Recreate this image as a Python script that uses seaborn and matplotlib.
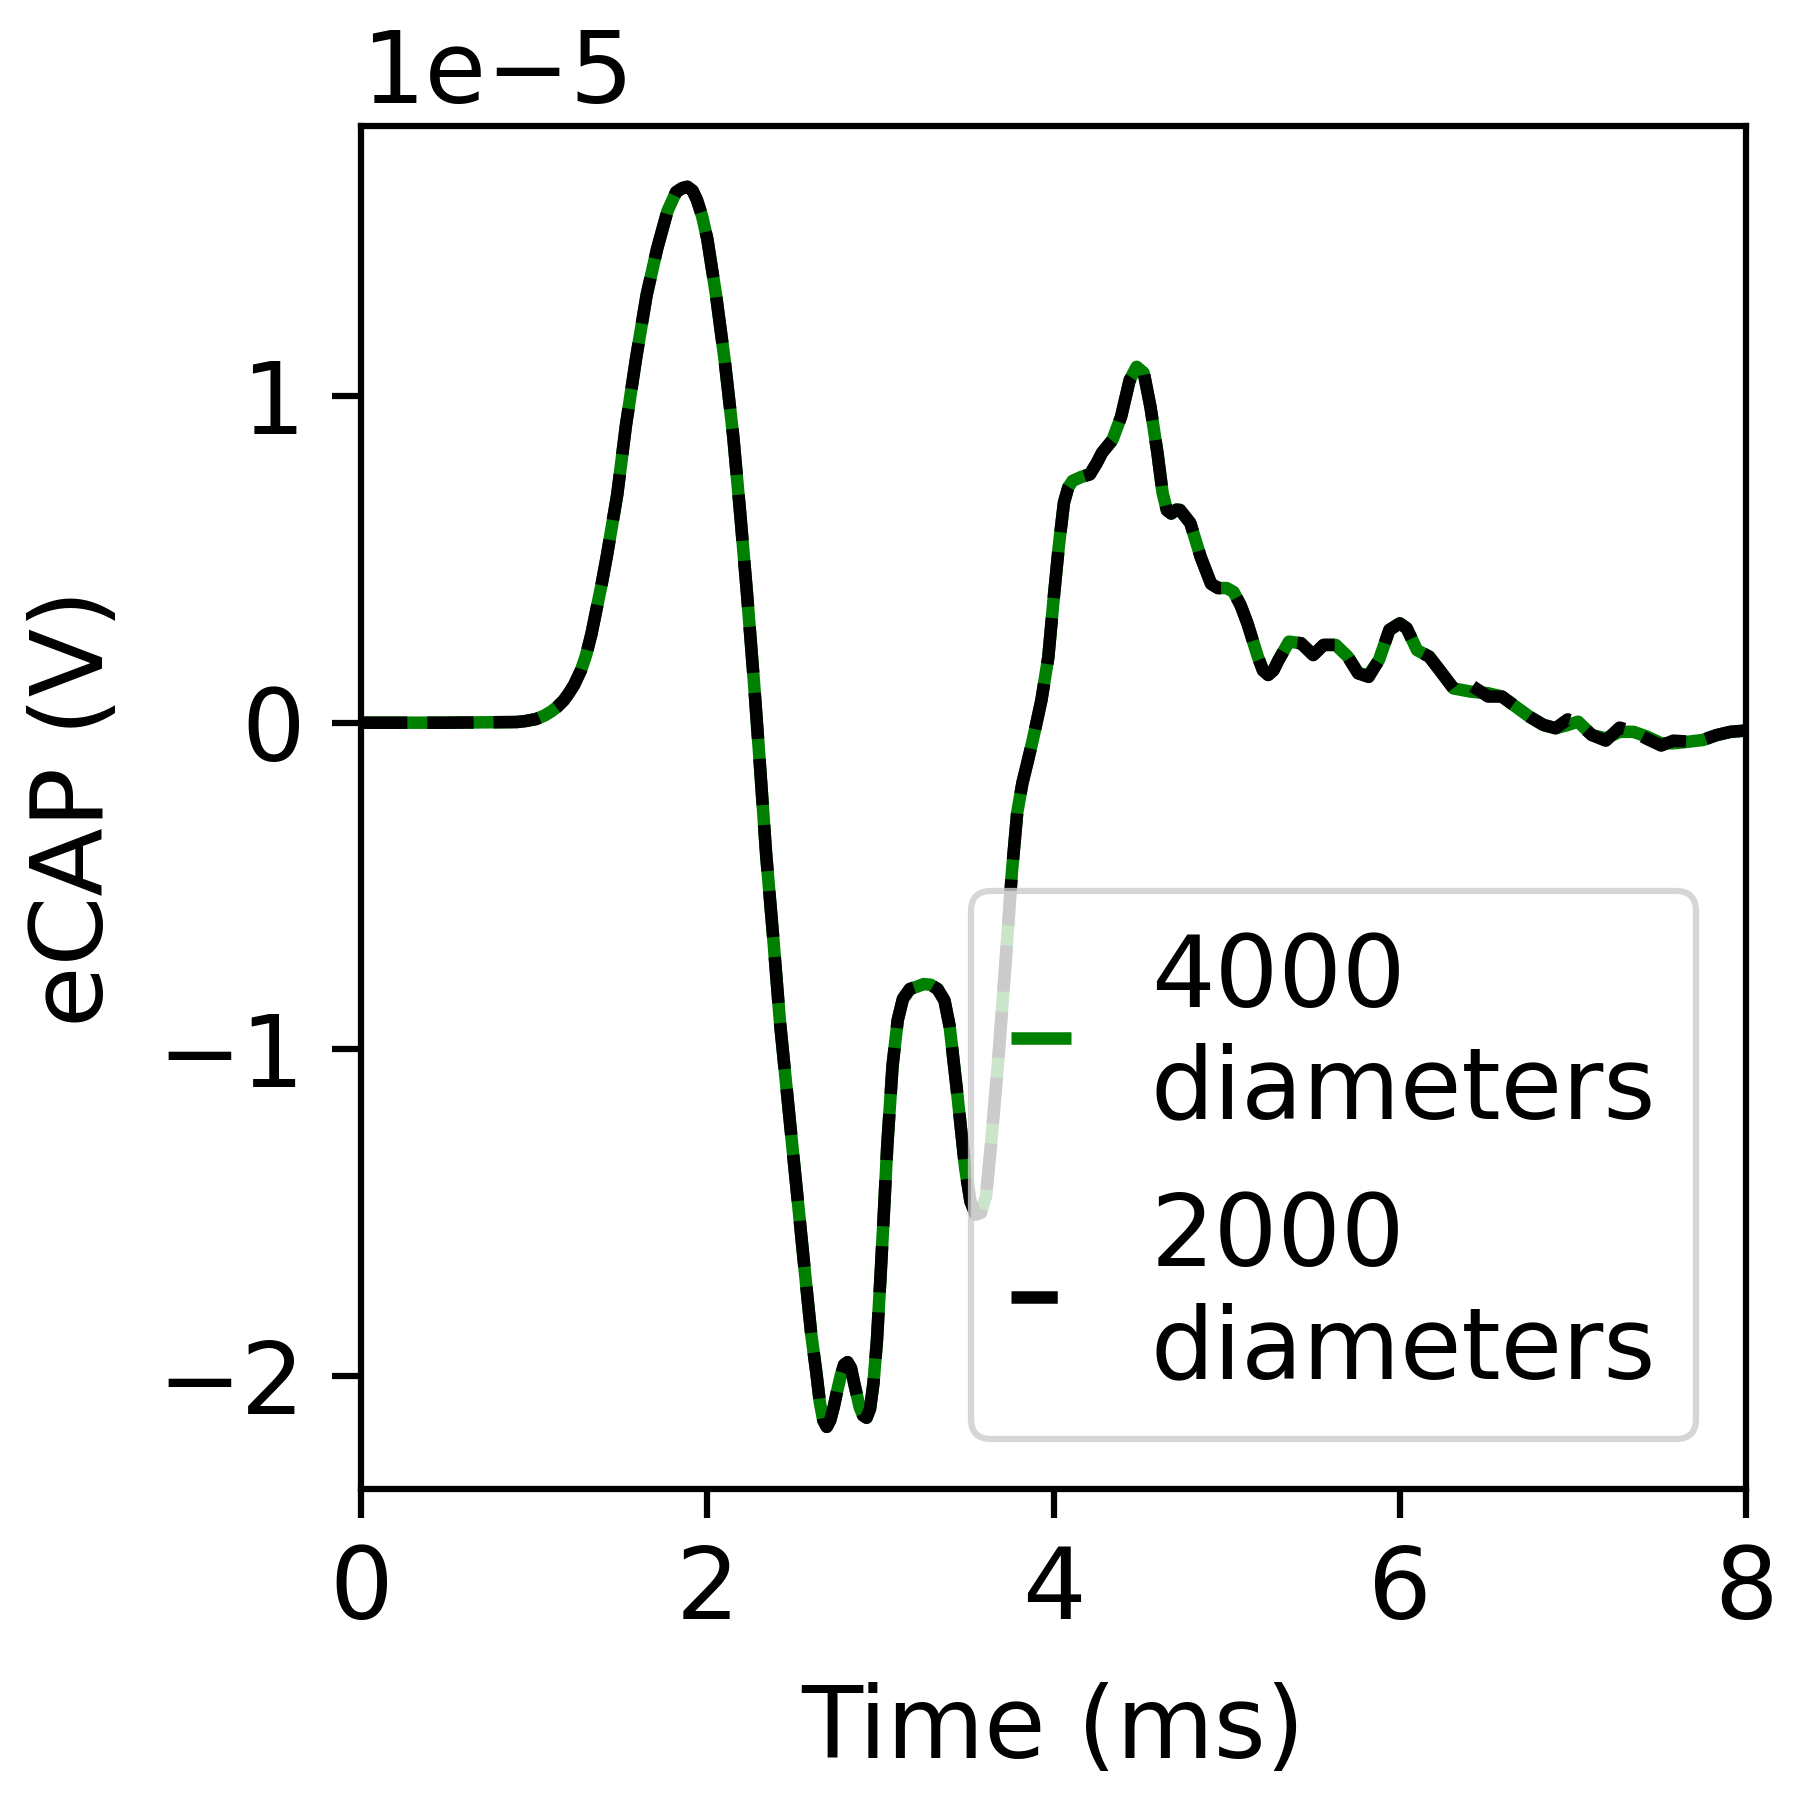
import numpy as np
import pandas as pd
import matplotlib
matplotlib.use("Agg")
import matplotlib.pyplot as plt
import seaborn as sns

# time axis (ms) shared by both runs
time_ms = [0.00, 0.50, 0.90, 0.95, 1.01, 1.06, 1.10, 1.13, 1.17, 1.20,
           1.23, 1.27, 1.30, 1.33, 1.36, 1.39, 1.42, 1.48, 1.53, 1.59,
           1.65, 1.71, 1.77, 1.82, 1.855, 1.885, 1.915, 1.94, 1.97, 2.00,
           2.05, 2.10, 2.15, 2.19, 2.23, 2.27, 2.30, 2.34, 2.38, 2.42,
           2.47, 2.52, 2.57, 2.60, 2.63, 2.65, 2.67, 2.69, 2.71, 2.73,
           2.75, 2.77, 2.79, 2.81, 2.83, 2.85, 2.88, 2.90, 2.92, 2.94,
           2.96, 2.98, 3.00, 3.02, 3.04, 3.07, 3.10, 3.13, 3.17, 3.21,
           3.25, 3.29, 3.33, 3.37, 3.40, 3.44, 3.49, 3.52, 3.55, 3.58,
           3.61, 3.64, 3.68, 3.72, 3.76, 3.79, 3.82, 3.85, 3.88, 3.93,
           3.97, 4.00, 4.03, 4.06, 4.085, 4.11, 4.16, 4.21, 4.25, 4.28,
           4.34, 4.39, 4.44, 4.48, 4.52, 4.56, 4.60, 4.63, 4.655, 4.68,
           4.71, 4.73, 4.79, 4.85, 4.91, 4.95, 5.00, 5.04, 5.08, 5.12,
           5.18, 5.21, 5.24, 5.27, 5.30, 5.36, 5.43, 5.50, 5.56, 5.63,
           5.70, 5.76, 5.82, 5.88, 5.94, 6.00, 6.04, 6.10, 6.17, 6.23,
           6.31, 6.41, 6.51, 6.59, 6.67, 6.75, 6.83, 6.90, 6.97, 7.03,
           7.11, 7.19, 7.27, 7.35, 7.43, 7.51, 7.58, 7.67, 7.75, 7.83,
           7.91, 8.00]

# eCAP in units of 1e-5 V
ecap_4000 = [0.000, 0.000, 0.002, 0.005, 0.011, 0.022, 0.035, 0.047, 0.068, 0.090,
             0.115, 0.160, 0.207, 0.270, 0.347, 0.425, 0.511, 0.699, 0.910, 1.120,
             1.310, 1.450, 1.566, 1.624, 1.636, 1.640, 1.628, 1.600, 1.550, 1.480,
             1.310, 1.110, 0.875, 0.640, 0.390, 0.120, -0.100, -0.404, -0.653, -0.918,
             -1.184, -1.449, -1.715, -1.870, -1.990, -2.080, -2.135, -2.155, -2.135, -2.095,
             -2.045, -2.000, -1.965, -1.957, -1.975, -2.025, -2.095, -2.120, -2.127, -2.100,
             -2.020, -1.890, -1.700, -1.500, -1.290, -1.050, -0.910, -0.845, -0.815, -0.808,
             -0.800, -0.802, -0.815, -0.850, -0.930, -1.117, -1.366, -1.465, -1.505, -1.500,
             -1.449, -1.283, -1.035, -0.753, -0.454, -0.276, -0.185, -0.120, -0.053, 0.069,
             0.201, 0.376, 0.538, 0.673, 0.720, 0.740, 0.752, 0.760, 0.795, 0.826,
             0.865, 0.936, 1.049, 1.089, 1.071, 0.966, 0.826, 0.703, 0.650, 0.640,
             0.652, 0.651, 0.611, 0.507, 0.425, 0.412, 0.412, 0.400, 0.360, 0.304,
             0.202, 0.160, 0.146, 0.160, 0.192, 0.248, 0.243, 0.207, 0.238, 0.238,
             0.202, 0.151, 0.146, 0.192, 0.284, 0.304, 0.289, 0.222, 0.202, 0.161,
             0.105, 0.095, 0.090, 0.080, 0.049, 0.018, -0.007, -0.017, -0.007, 0.003,
             -0.038, -0.048, -0.028, -0.028, -0.043, -0.063, -0.063, -0.058, -0.053, -0.038,
             -0.028, -0.024]

ecap_2000 = [0.000, 0.000, 0.002, 0.005, 0.011, 0.022, 0.035, 0.047, 0.068, 0.090,
             0.115, 0.160, 0.207, 0.270, 0.347, 0.425, 0.511, 0.699, 0.910, 1.120,
             1.310, 1.450, 1.566, 1.624, 1.636, 1.640, 1.628, 1.600, 1.550, 1.480,
             1.310, 1.110, 0.875, 0.640, 0.390, 0.120, -0.100, -0.404, -0.653, -0.918,
             -1.184, -1.449, -1.715, -1.870, -1.990, -2.080, -2.135, -2.155, -2.135, -2.095,
             -2.045, -2.000, -1.965, -1.957, -1.975, -2.025, -2.095, -2.120, -2.127, -2.100,
             -2.020, -1.890, -1.700, -1.500, -1.290, -1.050, -0.910, -0.845, -0.815, -0.808,
             -0.800, -0.802, -0.815, -0.850, -0.930, -1.117, -1.366, -1.465, -1.505, -1.500,
             -1.449, -1.283, -1.035, -0.753, -0.454, -0.276, -0.185, -0.120, -0.053, 0.069,
             0.201, 0.376, 0.538, 0.673, 0.720, 0.740, 0.752, 0.760, 0.795, 0.826,
             0.865, 0.936, 1.049, 1.080, 1.075, 0.966, 0.826, 0.703, 0.650, 0.640,
             0.652, 0.651, 0.611, 0.507, 0.425, 0.412, 0.412, 0.400, 0.360, 0.304,
             0.202, 0.160, 0.146, 0.160, 0.192, 0.248, 0.243, 0.207, 0.238, 0.238,
             0.202, 0.151, 0.140, 0.192, 0.284, 0.304, 0.289, 0.222, 0.202, 0.161,
             0.105, 0.115, 0.080, 0.080, 0.049, 0.018, -0.007, -0.017, 0.010, 0.000,
             -0.038, -0.055, -0.015, -0.028, -0.050, -0.070, -0.055, -0.058, -0.053, -0.038,
             -0.028, -0.024]

labels = ["4000\ndiameters", "2000\ndiameters"]

sns.set_style("ticks")
plt.rcParams["font.family"] = ["DejaVu Sans"]
plt.rcParams["text.color"] = "black"
plt.rcParams["axes.labelcolor"] = "black"
plt.rcParams["axes.edgecolor"] = "black"
plt.rcParams["xtick.color"] = "black"
plt.rcParams["ytick.color"] = "black"
plt.rcParams["axes.linewidth"] = 1.5
plt.rcParams["xtick.major.width"] = 1.5
plt.rcParams["ytick.major.width"] = 1.5
plt.rcParams["xtick.major.size"] = 7
plt.rcParams["ytick.major.size"] = 7
plt.rcParams["xtick.major.pad"] = 6
plt.rcParams["ytick.major.pad"] = 6.5

fig, ax = plt.subplots(figsize=(6, 6), dpi=300)
fig.subplots_adjust(left=0.2006, right=0.970, bottom=0.1728, top=0.93)

df = pd.DataFrame({
    "t": time_ms,
    "v4000": np.array(ecap_4000) * 1e-5,
    "v2000": np.array(ecap_2000) * 1e-5,
})

sns.lineplot(data=df, x="t", y="v4000", ax=ax, color="green", lw=3,
             label=labels[0], sort=False, solid_capstyle="butt")
sns.lineplot(data=df, x="t", y="v2000", ax=ax, color="black", lw=3,
             linestyle="--", label=labels[1], sort=False)

ax.set_xlim(0, 8)
ax.set_ylim(-2.345e-5, 1.826e-5)
ax.set_xticks([0, 2, 4, 6, 8])
ax.set_yticks([-2e-5, -1e-5, 0, 1e-5])
ax.tick_params(labelsize=24)
ax.yaxis.get_offset_text().set_fontsize(24)
ax.yaxis.OFFSETTEXTPAD = 5.5
ax.set_xlabel("Time (ms)", fontsize=24, labelpad=10)
ax.set_ylabel("eCAP (V)", fontsize=24, labelpad=8)

leg = ax.legend(loc="lower right", fontsize=24, handlelength=0.6)
leg.get_frame().set_linewidth(1.5)

fig.savefig("out.png", dpi=300)
